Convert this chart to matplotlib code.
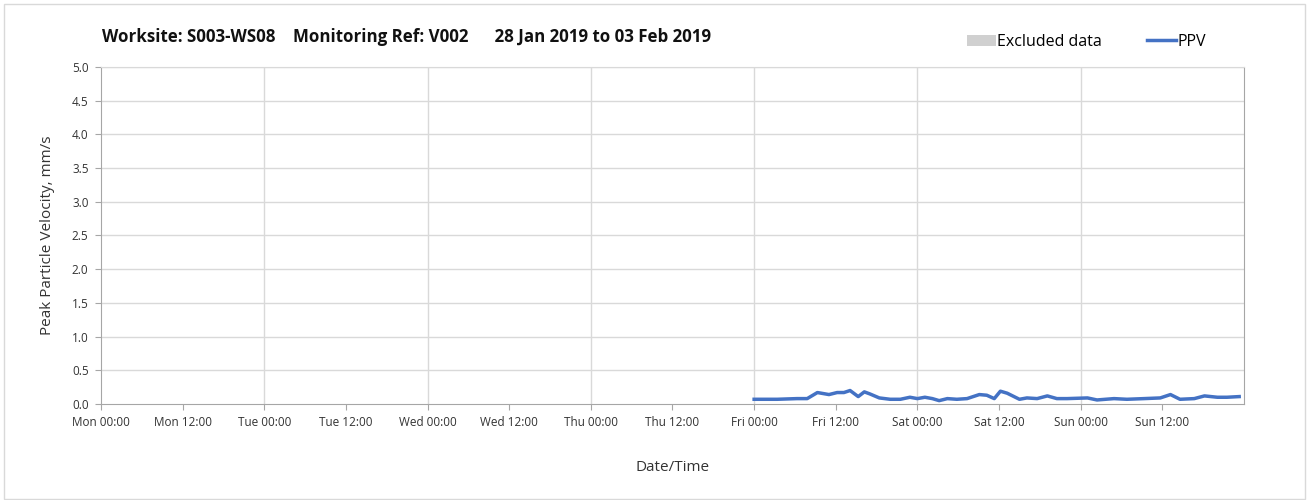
import matplotlib.pyplot as plt
from matplotlib.patches import Rectangle, Patch
from matplotlib.lines import Line2D

plt.rcParams['font.family'] = ['Open Sans', 'DejaVu Sans']

# hours since Mon 00:00 and PPV (mm/s)
hours = [96, 99.4, 102.3, 103.8, 105.3, 107, 108.2, 109.2, 110.1, 111.3, 112.2, 113,
         114.4, 116, 117.5, 118.9, 120, 121.1, 122.2, 123.2, 124.4, 125.8, 127.3, 129.1,
         130.2, 131.3, 132.2, 133.2, 135, 136.1, 137.6, 139.1, 140.5, 142, 145, 146.4,
         148.9, 150.8, 153.3, 155.7, 157.2, 158.6, 160.7, 162.2, 164.1, 165.5, 167.3]
ppv = [0.07, 0.07, 0.08, 0.08, 0.17, 0.14, 0.17, 0.17, 0.20, 0.11, 0.18, 0.15,
       0.09, 0.07, 0.07, 0.10, 0.08, 0.10, 0.08, 0.05, 0.08, 0.07, 0.08, 0.14,
       0.13, 0.08, 0.19, 0.16, 0.07, 0.09, 0.08, 0.12, 0.08, 0.08, 0.09, 0.06,
       0.08, 0.07, 0.08, 0.09, 0.14, 0.07, 0.08, 0.12, 0.10, 0.10, 0.11]

days = ['Mon', 'Tue', 'Wed', 'Thu', 'Fri', 'Sat', 'Sun']
tick_labels = []
for d in days:
    tick_labels += [d + ' 00:00', d + ' 12:00']
y_ticks = [0.0, 0.5, 1.0, 1.5, 2.0, 2.5, 3.0, 3.5, 4.0, 4.5, 5.0]

fig = plt.figure(figsize=(13.09, 5), dpi=100)
fig.patches.append(Rectangle((0.003, 0.003), 0.994, 0.99, transform=fig.transFigure,
                             fill=False, edgecolor='#d9d9d9', linewidth=1))
ax = fig.add_axes([0.0772, 0.192, 0.8731, 0.674])

ax.plot(hours, ppv, color='#4472c4', linewidth=2.5)

ax.set_xlim(0, 168)
ax.set_ylim(0, 5)
ax.set_xticks([i * 12 for i in range(14)])
ax.set_xticklabels(tick_labels, fontsize=8.5, color='#333333')
ax.set_yticks(y_ticks)
ax.set_yticklabels(['%.1f' % v for v in y_ticks], fontsize=8.5, color='#333333')

for h in range(24, 168, 24):
    ax.axvline(h, color='#d9d9d9', linewidth=1, zorder=0)
for v in y_ticks[1:]:
    ax.axhline(v, color='#d9d9d9', linewidth=1, zorder=0)

for s in ax.spines.values():
    s.set_color('#a6a6a6')
ax.spines['top'].set_color('#d9d9d9')
ax.tick_params(axis='both', color='#a6a6a6', length=4, pad=5)

ax.set_xlabel('Date/Time', fontsize=11, labelpad=22, color='#333333')
ax.set_ylabel('Peak Particle Velocity, mm/s', fontsize=11, labelpad=12, color='#333333')

fig.text(0.078, 0.925, 'Worksite: S003-WS08    Monitoring Ref: V002      28 Jan 2019 to 03 Feb 2019',
         fontsize=12.2, fontweight='bold', color='#111111', va='center')

handles = [Patch(facecolor='#d0d0d0', edgecolor='none', label='Excluded data'),
           Line2D([0], [0], color='#4472c4', linewidth=2.5, label='PPV')]
fig.legend(handles=handles, loc='center', bbox_to_anchor=(0.83, 0.916), ncol=2,
           frameon=False, fontsize=11.5, handlelength=1.8, handletextpad=0.1,
           columnspacing=2.8)

fig.savefig('out.png', dpi=100)
